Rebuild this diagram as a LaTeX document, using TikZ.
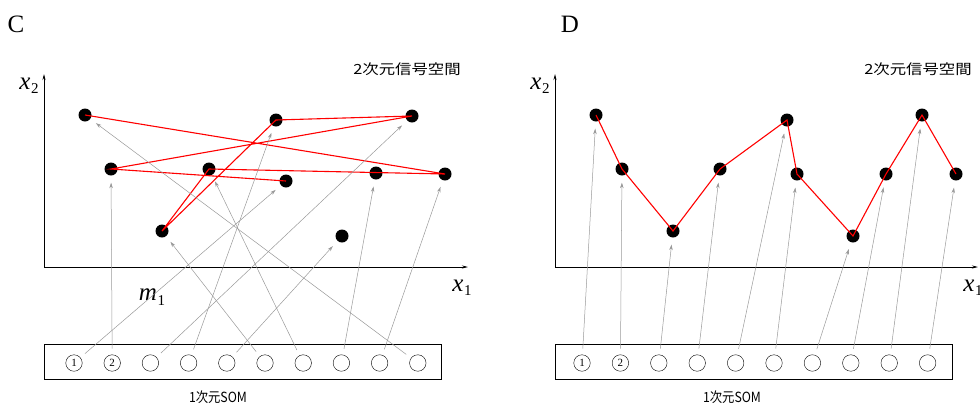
\documentclass[tikz,border=0pt]{standalone}
\usepackage{fontspec}
\setmainfont{Liberation Serif}
\newfontfamily\jpfont{Noto Sans CJK JP}
\usetikzlibrary{arrows.meta}
\newcommand{\myvar}[2]{\textit{#1}\kern0.5pt{\fontsize{15}{15}\selectfont\raisebox{-4.5pt}{#2}}}
\begin{document}
\begin{tikzpicture}[x=1pt,y=-1pt,
  dot/.style={circle,fill=black,minimum size=13pt,inner sep=0pt},
  unit/.style={circle,draw,thin,minimum size=16.5pt,inner sep=0pt,font=\fontsize{11}{11}\selectfont},
  mapline/.style={draw=black!40,line width=0.5pt,-{Stealth[length=5.5pt,width=3.5pt]},shorten >=7pt,shorten <=6pt},
  redline/.style={draw=red,line width=1.1pt},
  axisline/.style={line width=0.8pt,-{Stealth[length=6pt,width=3pt]}},
  jp/.style={font=\jpfont\fontsize{14}{14}\selectfont},
  panel/.style={font=\fontsize{25}{25}\selectfont},
  axlab/.style={font=\fontsize{25}{25}\selectfont}]
\useasboundingbox (0,0) rectangle (980,405);

% ---------- Panel C ----------
\node[panel] (labC) at (16,24) {C};
\coordinate (cO) at (44,267);
\coordinate (cYend) at (44,74);
\coordinate (cXend) at (468,267);
\draw[axisline] (cO) -- (cYend);
\draw[axisline] (cO) -- (cXend);
\node[axlab] (cx2) at (29,86) {\myvar{x}{2}};
\node[axlab] (cx1) at (462,288) {\myvar{x}{1}};
\node[axlab] (cm1) at (152,297) {\myvar{m}{1}};
\node[jp] (cspace) at (407,69) {\scalebox{1.17}[1]{2次元信号空間}};

\node[dot] (cA) at (85,115) {};
\node[dot] (cB) at (276,120) {};
\node[dot] (cC) at (412,116) {};
\node[dot] (cD) at (111,169) {};
\node[dot] (cE) at (209,169) {};
\node[dot] (cF) at (286,181) {};
\node[dot] (cG) at (376,173) {};
\node[dot] (cH) at (445,174) {};
\node[dot] (cI) at (162,231) {};
\node[dot] (cJ) at (342,236) {};

\draw[redline] (cF.center) -- (cD.center) -- (cC.center) -- (cB.center) -- (cI.center) -- (cE.center) -- (cH.center) -- (cA.center);

\node[draw,thin,minimum width=397pt,minimum height=35pt,inner sep=0pt] (cbox) at (242.5,361.5) {};
\foreach \i in {1,...,10}{
  \node[unit] (cs\i) at ({74+38.2*(\i-1)},363) {\ifnum\i<3 \i\fi};
}
\node[jp] (csom) at (218,397) {\scalebox{0.88}[1]{1次元SOM}};

\draw[mapline] (cs1) -- (cF);
\draw[mapline] (cs2) -- (cD);
\draw[mapline] (cs3) -- (cC);
\draw[mapline] (cs4) -- (cB);
\draw[mapline] (cs5) -- (cJ);
\draw[mapline] (cs6) -- (cI);
\draw[mapline] (cs7) -- (cE);
\draw[mapline] (cs8) -- (cG);
\draw[mapline] (cs9) -- (cH);
\draw[mapline] (cs10) -- (cA);

% ---------- Panel D ----------
\node[panel] (labD) at (570,24) {D};
\coordinate (dO) at (555,267);
\coordinate (dYend) at (555,74);
\coordinate (dXend) at (978,267);
\draw[axisline] (dO) -- (dYend);
\draw[axisline] (dO) -- (dXend);
\node[axlab] (dx2) at (540,86) {\myvar{x}{2}};
\node[axlab] (dx1) at (973,288) {\myvar{x}{1}};
\node[jp] (dspace) at (918,69) {\scalebox{1.17}[1]{2次元信号空間}};

\node[dot] (d1) at (596,115) {};
\node[dot] (d2) at (622,169) {};
\node[dot] (d3) at (673,231) {};
\node[dot] (d4) at (720,169) {};
\node[dot] (d5) at (787,120) {};
\node[dot] (d6) at (797,174) {};
\node[dot] (d7) at (853,236) {};
\node[dot] (d8) at (886,174) {};
\node[dot] (d9) at (922,115) {};
\node[dot] (d10) at (956,174) {};

\draw[redline] (d1.center) -- (d2.center) -- (d3.center) -- (d4.center) -- (d5.center) -- (d6.center) -- (d7.center) -- (d8.center) -- (d9.center) -- (d10.center);

\node[draw,thin,minimum width=397pt,minimum height=35pt,inner sep=0pt] (dbox) at (753.5,361.5) {};
\foreach \i in {1,...,10}{
  \node[unit] (ds\i) at ({582+38.4*(\i-1)},363) {\ifnum\i<3 \i\fi};
  \draw[mapline] (ds\i) -- (d\i);
}
\node[jp] (dsom) at (732,397) {\scalebox{0.88}[1]{1次元SOM}};
\end{tikzpicture}
\end{document}
